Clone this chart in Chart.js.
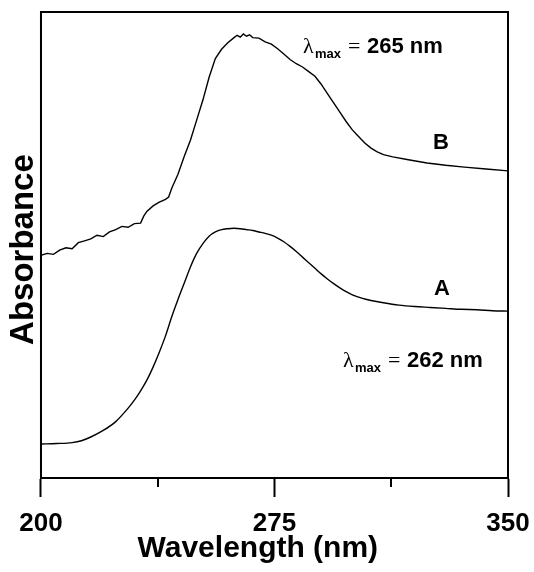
<!DOCTYPE html>
<html>
<head>
<meta charset="utf-8">
<script src="https://cdn.jsdelivr.net/npm/chart.js@4.4.1/dist/chart.umd.min.js"></script>
<style>
  html, body { margin: 0; padding: 0; background: #fff; }
  #wrap { width: 534px; height: 572px; }
</style>
</head>
<body>
<div id="wrap"><canvas id="myChart" width="534" height="572"></canvas></div>
<script>
// wavelength (nm) / absorbance (a.u.)
const wavelengthA = [200, 205, 210, 213, 216, 220, 224, 228, 230, 232, 234, 236, 238, 240, 242, 244, 246, 248, 250, 252, 254, 256, 258, 260, 262, 264, 266, 268, 270, 272, 274, 276, 278, 280, 282, 284, 286, 288, 290, 292, 294, 296, 298, 300, 303, 306, 310, 315, 320, 325, 330, 335, 340, 345, 350];
const absorbanceA = [0.073, 0.074, 0.076, 0.080, 0.088, 0.102, 0.121, 0.150, 0.167, 0.187, 0.210, 0.238, 0.270, 0.305, 0.346, 0.383, 0.418, 0.453, 0.482, 0.503, 0.519, 0.528, 0.533, 0.535, 0.536, 0.535, 0.533, 0.531, 0.528, 0.525, 0.521, 0.515, 0.507, 0.497, 0.486, 0.474, 0.462, 0.450, 0.438, 0.427, 0.417, 0.408, 0.400, 0.393, 0.386, 0.381, 0.376, 0.371, 0.368, 0.366, 0.364, 0.362, 0.361, 0.359, 0.358];

const wavelengthB = [200, 202, 204, 206, 208, 210, 212, 214, 216, 218, 220, 222, 224, 226, 228, 230, 232, 233, 234, 236, 238, 240, 241, 242, 244, 246, 248, 250, 252, 254, 256, 258, 260, 262, 263, 264, 265, 266, 267, 268, 270, 272, 274, 276, 278, 280, 282, 284, 286, 288, 290, 292, 294, 296, 298, 300, 302, 304, 306, 308, 310, 313, 318, 324, 330, 336, 343, 350];
const absorbanceB = [0.478, 0.482, 0.480, 0.489, 0.494, 0.492, 0.505, 0.509, 0.513, 0.521, 0.518, 0.528, 0.533, 0.540, 0.538, 0.546, 0.547, 0.562, 0.572, 0.584, 0.592, 0.598, 0.603, 0.622, 0.652, 0.690, 0.725, 0.768, 0.811, 0.860, 0.900, 0.920, 0.934, 0.945, 0.950, 0.946, 0.953, 0.948, 0.951, 0.945, 0.944, 0.936, 0.931, 0.921, 0.910, 0.898, 0.889, 0.882, 0.872, 0.862, 0.845, 0.825, 0.805, 0.785, 0.765, 0.747, 0.733, 0.719, 0.708, 0.700, 0.694, 0.689, 0.683, 0.676, 0.671, 0.667, 0.663, 0.659];

const majorTicks = [200, 275, 350];
const minorTicks = [237.5, 312.5];

const toPoints = (xs, ys) => xs.map((x, i) => ({ x: x, y: ys[i] }));

// box, minor ticks and the curve labels
const decorPlugin = {
  id: 'decor',
  afterDraw(chart) {
    const ctx = chart.ctx;
    const area = chart.chartArea;
    const xs = chart.scales.x;
    ctx.save();
    ctx.strokeStyle = '#000';
    ctx.lineWidth = 2;
    ctx.strokeRect(area.left, area.top, area.right - area.left, area.bottom - area.top);
    minorTicks.forEach((v) => {
      const px = Math.round(xs.getPixelForValue(v));
      ctx.beginPath();
      ctx.moveTo(px, area.bottom);
      ctx.lineTo(px, area.bottom + 9);
      ctx.stroke();
    });

    ctx.fillStyle = '#000';
    ctx.textBaseline = 'alphabetic';
    const lambdaLabel = (x, y, value) => {
      ctx.font = '22px "Liberation Serif"';
      ctx.fillText('\u03bb', x, y);
      ctx.font = 'bold 13px "Liberation Sans"';
      ctx.fillText('max', x + 12, y + 5);
      ctx.font = '22px "Liberation Serif"';
      ctx.fillText('=', x + 45, y);
      ctx.font = 'bold 22px "Liberation Sans"';
      ctx.fillText(value, x + 64, y);
    };
    lambdaLabel(303, 53, '265 nm');
    lambdaLabel(343, 367, '262 nm');

    ctx.font = 'bold 22px "Liberation Sans"';
    ctx.textAlign = 'center';
    ctx.fillText('B', 441, 149);
    ctx.fillText('A', 442, 295);
    ctx.restore();
  }
};

new Chart(document.getElementById('myChart').getContext('2d'), {
  type: 'line',
  data: {
    datasets: [
      {
        label: 'A',
        data: toPoints(wavelengthA, absorbanceA),
        borderColor: '#000',
        borderWidth: 1.4,
        pointRadius: 0,
        cubicInterpolationMode: 'monotone',
        fill: false,
      },
      {
        label: 'B',
        data: toPoints(wavelengthB, absorbanceB),
        borderColor: '#000',
        borderWidth: 1.4,
        pointRadius: 0,
        tension: 0,
        fill: false,
      },
    ],
  },
  options: {
    responsive: false,
    animation: false,
    layout: { autoPadding: false, padding: { left: 4, right: 26, top: 12, bottom: 9 } },
    plugins: {
      legend: { display: false },
      tooltip: { enabled: false },
    },
    scales: {
      x: {
        type: 'linear',
        min: 200,
        max: 350,
        afterBuildTicks: (axis) => {
          axis.ticks = majorTicks.map((v) => ({ value: v }));
        },
        grid: {
          drawOnChartArea: false,
          drawTicks: true,
          tickLength: 19,
          tickWidth: 2,
          tickColor: '#000',
        },
        border: { display: true, color: '#000', width: 2 },
        ticks: {
          color: '#000',
          padding: 0,
          maxRotation: 0,
          font: { family: 'Liberation Sans', size: 26, weight: 'bold', lineHeight: 54 / 26 },
          callback: (v) => String(v),
        },
        title: {
          display: true,
          // trailing spaces nudge the centred title a little to the left, as in the original
          text: 'Wavelength (nm)    ',
          color: '#000',
          padding: { top: -16, bottom: 1 },
          font: { family: 'Liberation Sans', size: 30, weight: 'bold', lineHeight: 0.9 },
        },
      },
      y: {
        min: 0,
        max: 1,
        grid: { display: false, drawTicks: false },
        border: { display: true, color: '#000', width: 2 },
        ticks: { display: false },
        title: {
          display: true,
          text: 'Absorbance ',
          color: '#000',
          padding: { top: 2, bottom: 0 },
          font: { family: 'Liberation Sans', size: 33, weight: 'bold', lineHeight: 1.06 },
        },
      },
    },
  },
  plugins: [decorPlugin],
});
</script>
</body>
</html>
